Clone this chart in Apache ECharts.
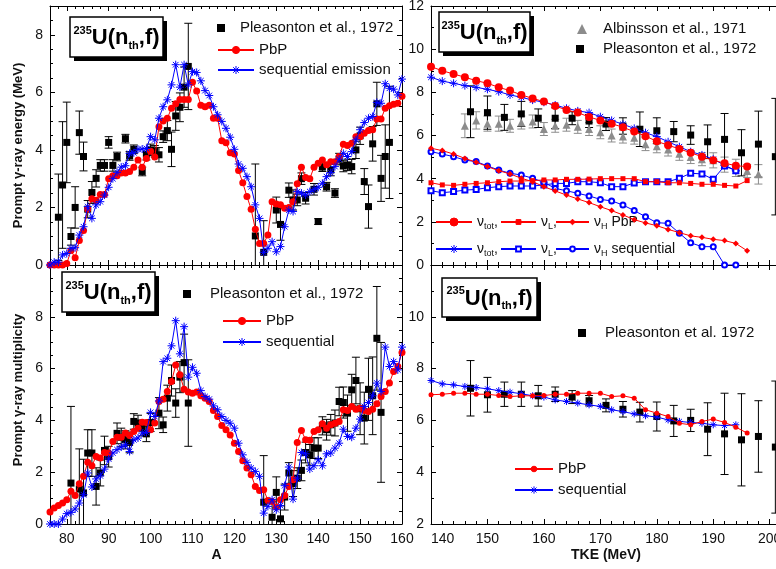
<!DOCTYPE html>
<html><head><meta charset="utf-8">
<script src="https://cdn.jsdelivr.net/npm/echarts@6/dist/echarts.min.js"></script>
<style>html,body{margin:0;padding:0;background:#fff}#c{width:776px;height:569px}</style>
</head><body><div id="c"></div>
<script>
// ---------------- data ----------------
const massA = [76,77,78,79,80,81,82,83,84,85,86,87,88,89,90,91,92,93,94,95,96,97,98,99,100,101,102,103,104,105,106,107,108,109,110,111,112,113,114,115,116,117,118,119,120,121,122,123,124,125,126,127,128,129,130,131,132,133,134,135,136,137,138,139,140,141,142,143,144,145,146,147,148,149,150,151,152,153,154,155,156,157,158,159,160];
const energyPbP = [0,0,0,0,0.05,0.5,0.25,0.85,1.2,1.95, 2.3,2.25,2.45,2.45,3.0,3.1,3.1,3.2,3.2,3.25, 3.4,3.65,3.4,3.7,3.95,3.75,4.8,5.0,5.1,5.45, 5.6,5.75,5.75,5.75,6.35,6.05,5.55,5.5,5.55,5.1, 5.1,4.32,4.25,3.9,3.86,3.28,2.86,2.38,1.94,1.24, 0.75,0.75,1.04,2.2,2.12,2.09,1.97,2.0,2.2,2.82, 3.4,3.04,3.0,3.4,3.54,3.65,3.48,3.59,3.59,3.77, 4.2,4.15,4.23,4.46,4.46,4.58,4.67,4.7,5.07,5.07, 5.45,5.53,5.59,5.62,5.86];
const energySeq = [0,0.1,0.1,0.35,0.4,0.58,0.6,1.04,1.33,2.03, 1.62,2.09,2.2,2.43,2.7,3.0,3.22,3.4,3.45,3.88, 3.9,4.02,4.03,4.05,4.46,4.35,5.1,5.5,5.74,6.26, 6.96,6.18,6.96,6.26,6.72,6.69,6.4,6.06,5.89,5.5, 5.22,4.99,4.75,4.44,4.02,3.51,3.36,3.07,2.72,2.09, 1.62,0.44,0.58,0.81,0.46,0.64,1.33,1.91,1.86,2.55, 2.5,2.43,2.55,2.63,2.7,2.84,3.07,3.21,3.42,3.68, 3.88,3.77,3.94,4.35,4.7,4.95,5.1,5.16,5.65,5.62, 6.3,6.14,6.11,5.91,6.46];
const plEnergyA = [78,79,80,81,82,83,84,85,86,87,88,89,90,91,92,94,95,96,98,99,100,101,102,103,104,105,106,107,108,109,125,127,130,131,133,134,135,136,137,139,140,141,142,143,144,145,146,147,148,149,150,151,152,153,154,155,156,157];
const plEnergy = [1.66,2.78,4.26,0.99,2.0,4.6,3.77,1.94,2.52,3.01,3.46,3.46,4.26,3.46,3.77,4.39,3.79,4.02,3.25,3.85,4.0,3.95,3.83,4.46,4.67,4.02,5.18,5.48,6.18,6.9,1.01,0.44,1.91,1.41,2.6,2.26,2.26,3.0,2.32,2.63,1.51,3.4,2.72,3.3,2.5,3.68,3.44,3.48,3.42,4.0,4.49,2.9,2.03,4.21,5.6,3.01,3.77,4.26];
const plEnergyErr = [1.5,2.2,1.4,0.3,0.72,0.75,0.5,0.3,0.38,0.3,0.2,0.2,0.2,0.2,0.15,0.15,0.15,0.15,0.15,0.2,0.2,0.2,0.25,0.2,0.35,0.6,0.5,0.5,0.7,1.5,2.5,1.1,0.45,0.55,0.25,0.35,0.2,0.2,0.2,0.2,0.1,0.15,0.15,0.2,0.15,0.2,0.2,0.2,0.25,0.3,0.3,0.45,0.75,0.6,0.75,0.8,1.1,1.95];

const multPbP = [0.46,0.62,0.71,0.81,0.94,1.26,1.1,1.55,1.84,2.38, 2.25,2.61,2.55,2.76,2.74,3.19,3.35,3.35,3.51,3.42, 3.57,3.7,3.93,3.92,3.64,3.9,4.73,4.82,5.12,5.5, 6.14,5.76,5.2,5.1,5.05,5.1,4.95,4.86,4.73,4.38, 4.15,3.8,3.64,3.44,3.12,2.8,2.44,2.16,1.9,1.45, 1.29,1.32,0.91,0.87,0.66,0.94,1.1,1.45,1.71,3.15, 3.61,3.25,3.23,3.57,3.64,3.87,3.7,3.83,3.89,3.96, 4.41,4.38,4.54,4.43,4.47,4.38,4.34,4.43,4.64,4.92, 5.12,5.44,5.89,6.08,6.62];
const multSeq = [0,0,0,0.19,0.4,0.45,0.58,0.81,1.13,1.97, 1.43,1.74,1.86,2.12,2.51,2.74,2.87,2.97,3.06,2.8, 3.25,3.32,3.51,3.54,4.31,4.15,4.75,6.27,6.4,6.88, 7.85,6.57,7.62,5.67,6.05,5.82,5.15,4.92,4.82,4.56, 4.41,4.15,4.0,3.89,3.7,3.12,2.67,2.38,2.16,2.03, 1.84,0.42,0.68,0.94,0.55,0.71,1.48,2.2,0.96,1.77, 2.76,2.71,2.12,2.25,2.48,2.25,2.71,2.74,2.93,3.12, 3.66,3.38,3.35,3.7,4.05,4.54,4.69,4.95,5.44,5.12, 6.83,6.08,6.27,5.95,6.83];
const plMultA = [81,83,84,85,86,87,88,89,90,92,93,94,95,96,97,98,99,100,102,103,104,105,106,107,108,109,127,129,130,131,132,133,134,135,136,137,138,139,140,141,142,143,144,145,146,147,148,149,150,151,152,153,154,155];
const plMult = [1.58,1.35,1.2,2.74,2.74,1.45,1.97,2.84,2.6,3.5,3.35,3.25,3.15,3.96,3.9,3.7,3.48,3.92,4.28,3.83,4.86,5.54,4.67,5.67,6.23,4.67,0.84,0.26,1.22,0.2,1.04,1.97,1.56,1.77,2.07,2.76,2.67,2.93,2.93,3.79,3.64,3.83,3.9,4.73,4.69,4.28,5.18,5.54,4.45,4.09,5.2,4.95,7.17,4.31];
const plMultErr = [2.96,1.55,1.3,0.9,0.9,0.72,0.5,0.55,0.4,0.4,0.35,0.35,0.4,0.3,0.3,0.3,0.3,0.35,0.6,0.3,0.5,0.6,0.55,0.6,1.1,1.67,1.8,0.6,0.6,0.5,0.5,0.4,0.5,0.4,0.4,0.4,0.4,0.4,0.4,0.35,0.4,0.4,0.5,0.55,0.6,0.7,0.6,0.9,1.0,1.0,1.2,1.5,2.0,2.7];

const tkePbP = [140,142,144,146,148,150,152,154,156,158,160,162,164,166,168,170,172,174,176,178,180,182,184,186,188,190,192,194,196];
const tkeSeq = [140,142,144,146,148,150,152,154,156,158,160,162,164,166,168,170,172,174,176,178,180,182,184,186,188,190,192,194];
const nuTotPbP = [9.19,9.0,8.85,8.7,8.54,8.42,8.23,8.08,7.88,7.72,7.57,7.37,7.18,7.06,6.86,6.7,6.55,6.38,6.18,5.97,5.73,5.55,5.38,5.2,5.02,4.85,4.72,4.6,4.56];
const nuLPbP = [3.81,3.71,3.69,3.74,3.78,3.81,3.86,3.89,3.89,3.91,3.94,3.94,3.97,3.97,3.98,4.0,4.0,4.0,4.0,3.86,3.86,3.81,3.81,3.78,3.74,3.74,3.69,3.66,3.91];
const nuHPbP = [5.41,5.3,5.14,4.94,4.76,4.56,4.37,4.22,4.02,3.86,3.63,3.43,3.24,3.06,2.89,2.7,2.52,2.32,2.1,1.95,1.82,1.65,1.5,1.35,1.28,1.19,1.13,1.0,0.66];
const nuTotSeq = [8.7,8.52,8.42,8.31,8.23,8.14,8.03,7.88,7.77,7.64,7.54,7.41,7.26,7.14,7.06,6.87,6.7,6.52,6.33,6.13,5.95,5.71,5.48,5.25,5.1,4.9,4.63,4.37];
const nuLSeq = [3.44,3.35,3.4,3.47,3.5,3.58,3.63,3.66,3.66,3.66,3.71,3.78,3.78,3.86,3.86,3.81,3.63,3.63,3.8,3.86,3.86,3.86,4.02,4.25,4.22,3.97,4.59,4.37];
const nuHSeq = [5.25,5.14,5.02,4.86,4.79,4.59,4.4,4.25,4.17,4.02,3.83,3.55,3.44,3.32,3.2,3.04,2.97,2.78,2.52,2.24,1.96,1.93,1.47,1.03,0.85,0.85,0,0];
const albTKE = [146,148,150,152,154,156,158,160,162,164,166,168,170,172,174,176,178,180,182,184,186,188,190,192,194,196,198];
const albNu = [6.45,6.7,6.55,6.55,6.45,6.6,6.65,6.3,6.45,6.5,6.4,6.3,6.15,6.0,5.95,5.9,5.6,5.5,5.35,5.15,5.0,4.9,4.85,4.65,4.5,4.35,4.2];
const albNuErr = [0.55,0.4,0.35,0.35,0.3,0.3,0.3,0.3,0.3,0.3,0.3,0.3,0.3,0.3,0.3,0.3,0.3,0.3,0.3,0.3,0.3,0.3,0.35,0.35,0.4,0.3,0.45];
const plTKE = [147,150,153,156,159,162,165,168,171,174,177,180,183,186,189,192,195,198,201];
const plNu = [7.1,7.06,6.84,7.0,6.8,6.8,6.8,6.67,6.53,6.44,6.29,6.22,6.18,6.02,5.71,5.82,5.2,5.6,5.02];
const plNuErr = [1.2,0.77,0.6,0.58,0.43,0.48,0.3,0.3,0.3,0.38,0.8,0.6,0.47,0.43,0.78,1.2,1.07,1.53,2.7];

const gTkePbP = [6.99,7.01,7.05,7.05,7.01,7.01,6.96,6.92,6.95,6.95,6.96,7.01,7.01,7.05,7.05,7.05,6.92,6.95,6.86,6.41,6.28,6.15,5.89,5.83,5.96,6.05,5.92,5.74,5.51];
const gTkeSeq = [7.54,7.41,7.37,7.31,7.27,7.22,7.15,7.09,7.03,6.95,6.9,6.79,6.73,6.67,6.6,6.54,6.41,6.34,6.25,6.18,6.13,6.02,5.96,5.92,5.89,5.83,5.8,5.83];
const plG = [7.24,6.99,7.01,7.01,6.95,7.01,6.9,6.76,6.58,6.43,6.32,6.15,5.98,6.0,5.66,5.48,5.25,5.38,4.97];
const plGErr = [1.07,0.67,0.47,0.47,0.4,0.28,0.25,0.2,0.25,0.3,0.38,0.56,0.6,0.43,1.02,1.57,1.78,1.38,2.55];

// ---------------- styling ----------------
const FONT = '"Liberation Sans", Arial, Helvetica, sans-serif';
const RED = '#ff0000', BLUE = '#0000ff', BLACK = '#000000', GRAY = '#8c8c8c';
const STAR = 'path://M0 5L10 5M5 0L5 10M1.5 1.5L8.5 8.5M8.5 1.5L1.5 8.5';
const pairs = (xs, ys) => xs.map((x, i) => [x, ys[i]]);

const grids = [
  {left: 50, top: 6, width: 352, height: 259, outerBoundsMode: 'none', containLabel: false},
  {left: 431, top: 6, width: 350, height: 259, outerBoundsMode: 'none', containLabel: false},
  {left: 50, top: 265, width: 352, height: 259, outerBoundsMode: 'none', containLabel: false},
  {left: 431, top: 265, width: 350, height: 259, outerBoundsMode: 'none', containLabel: false}
];

function baseAxis(extra) {
  return Object.assign({
    type: 'value', scale: false,
    axisLine: {show: true, onZero: false, lineStyle: {color: BLACK, width: 1}},
    axisTick: {show: true, inside: true, length: 5, lineStyle: {color: BLACK}},
    minorTick: {show: true, splitNumber: 5, length: 3, lineStyle: {color: BLACK}},
    splitLine: {show: false},
    axisLabel: {show: false, color: '#111', fontSize: 14, fontFamily: FONT, margin: 7},
    nameTextStyle: {fontSize: 14, fontWeight: 'bold', fontFamily: FONT, color: '#111'}
  }, extra);
}
const massRange = {min: 76, max: 160, minInterval: 10, maxInterval: 10, splitNumber: 8};
const tkeRange = {min: 140, max: 202, interval: 10};
const mult10 = v => (Math.abs(v % 10) < 1e-9 ? String(v) : '');

const xAxes = [];
const yAxes = [];
// TL
xAxes.push(baseAxis(Object.assign({gridIndex: 0, position: 'bottom'}, massRange)));
xAxes.push(baseAxis(Object.assign({gridIndex: 0, position: 'top'}, massRange)));
// TR
xAxes.push(baseAxis(Object.assign({gridIndex: 1, position: 'bottom'}, tkeRange)));
xAxes.push(baseAxis(Object.assign({gridIndex: 1, position: 'top'}, tkeRange)));
// BL
xAxes.push(baseAxis(Object.assign({gridIndex: 2, position: 'bottom', name: 'A', nameLocation: 'middle', nameGap: 24,
  nameTextStyle: {fontSize: 14, fontWeight: 'bold', fontFamily: FONT, color: '#111', padding: [0, 19, 0, 0]},
  axisLabel: {show: true, color: '#111', fontSize: 14, fontFamily: FONT, margin: 8, formatter: mult10}}, massRange)));
xAxes.push(baseAxis(Object.assign({gridIndex: 2, position: 'top'}, massRange)));
// BR
xAxes.push(baseAxis(Object.assign({gridIndex: 3, position: 'bottom', name: 'TKE (MeV)', nameLocation: 'middle', nameGap: 24,
  axisLabel: {show: true, color: '#111', fontSize: 14, fontFamily: FONT, margin: 8, formatter: mult10, alignMinLabel: 'left'}}, tkeRange)));
xAxes.push(baseAxis(Object.assign({gridIndex: 3, position: 'top'}, tkeRange)));

const yLab = (hideAbove) => ({show: true, color: '#111', fontSize: 14, fontFamily: FONT, margin: 7,
  formatter: v => (v > hideAbove - 1e-9 || Math.abs(v % 2) > 1e-9 ? '' : String(v))});
// TL
yAxes.push(baseAxis({gridIndex: 0, position: 'left', min: 0, max: 9, interval: 2, minorTick: {show: true, splitNumber: 4, length: 3, lineStyle: {color: BLACK}},
  axisLabel: yLab(9), name: 'Prompt \u03b3-ray energy (MeV)', nameLocation: 'middle', nameGap: 25,
  nameTextStyle: {fontSize: 13, fontWeight: 'bold', fontFamily: FONT, color: '#111', padding: [0, 20, 0, 0]}}));
yAxes.push(baseAxis({gridIndex: 0, position: 'right', min: 0, max: 9, interval: 2, minorTick: {show: true, splitNumber: 4, length: 3, lineStyle: {color: BLACK}}}));
// TR
yAxes.push(baseAxis({gridIndex: 1, position: 'left', min: 0, max: 12, interval: 2, minorTick: {show: true, splitNumber: 2, length: 3, lineStyle: {color: BLACK}},
  axisLabel: yLab(13)}));
yAxes.push(baseAxis({gridIndex: 1, position: 'right', min: 0, max: 12, interval: 2, minorTick: {show: true, splitNumber: 2, length: 3, lineStyle: {color: BLACK}}}));
// BL
yAxes.push(baseAxis({gridIndex: 2, position: 'left', min: 0, max: 10, interval: 2, minorTick: {show: true, splitNumber: 4, length: 3, lineStyle: {color: BLACK}},
  axisLabel: yLab(10), name: 'Prompt \u03b3-ray multiplicity', nameLocation: 'middle', nameGap: 25,
  nameTextStyle: {fontSize: 13, fontWeight: 'bold', fontFamily: FONT, color: '#111', padding: [0, 0, 0, 9]}}));
yAxes.push(baseAxis({gridIndex: 2, position: 'right', min: 0, max: 10, interval: 2, minorTick: {show: true, splitNumber: 4, length: 3, lineStyle: {color: BLACK}}}));
// BR
yAxes.push(baseAxis({gridIndex: 3, position: 'left', min: 2, max: 12, interval: 2, minorTick: {show: true, splitNumber: 2, length: 3, lineStyle: {color: BLACK}},
  axisLabel: yLab(12)}));
yAxes.push(baseAxis({gridIndex: 3, position: 'right', min: 2, max: 12, interval: 2, minorTick: {show: true, splitNumber: 2, length: 3, lineStyle: {color: BLACK}}}));

// ---------------- series ----------------
function errSeries(name, gi, xs, ys, es, color, cap) {
  return {
    name: name, type: 'custom', xAxisIndex: 2 * gi, yAxisIndex: 2 * gi, clip: true, silent: true, z: 2,
    data: xs.map((x, i) => [x, ys[i] - es[i], ys[i] + es[i]]),
    encode: {x: 0, y: [1, 2]},
    renderItem: function (params, api) {
      const a = api.coord([api.value(0), api.value(2)]);
      const b = api.coord([api.value(0), api.value(1)]);
      const st = {stroke: color, lineWidth: 1};
      return {type: 'group', children: [
        {type: 'line', shape: {x1: a[0], y1: a[1], x2: b[0], y2: b[1]}, style: st},
        {type: 'line', shape: {x1: a[0] - cap, y1: a[1], x2: a[0] + cap, y2: a[1]}, style: st},
        {type: 'line', shape: {x1: b[0] - cap, y1: b[1], x2: b[0] + cap, y2: b[1]}, style: st}
      ]};
    }
  };
}
function scat(name, gi, xs, ys, symbol, size, color) {
  return {name: name, type: 'scatter', xAxisIndex: 2 * gi, yAxisIndex: 2 * gi, z: 3,
    symbol: symbol, symbolSize: size, data: pairs(xs, ys),
    itemStyle: {color: color, opacity: 1}, emphasis: {disabled: true}};
}
function line(name, gi, xs, ys, color, symbol, size, opts) {
  opts = opts || {};
  const star = symbol === STAR, empty = symbol.indexOf('empty') === 0;
  return {name: name, type: 'line', xAxisIndex: 2 * gi, yAxisIndex: 2 * gi, z: opts.z || 4,
    data: pairs(xs, ys), symbol: symbol, symbolSize: size, showSymbol: true, showAllSymbol: true,
    color: color, lineStyle: {color: color, width: 1},
    itemStyle: {color: color, borderColor: color, borderWidth: (star || empty) ? 1 : 0, opacity: 1},
    emphasis: {disabled: true}, animation: false};
}

const series = [
  // TL
  errSeries('plTLerr', 0, plEnergyA, plEnergy, plEnergyErr, BLACK, 4),
  scat('plTL', 0, plEnergyA, plEnergy, 'rect', 7, BLACK),
  line('pbpTL', 0, massA, energyPbP, RED, 'circle', 7),
  line('seqTL', 0, massA, energySeq, BLUE, STAR, 8, {z: 5}),
  // TR
  errSeries('albTRerr', 1, albTKE, albNu, albNuErr, GRAY, 4),
  scat('albTR', 1, albTKE, albNu, 'triangle', 8, GRAY),
  errSeries('plTRerr', 1, plTKE, plNu, plNuErr, BLACK, 4),
  scat('plTR', 1, plTKE, plNu, 'rect', 7, BLACK),
  line('nuTotSeq', 1, tkeSeq, nuTotSeq, BLUE, STAR, 8),
  line('nuLSeq', 1, tkeSeq, nuLSeq, BLUE, 'emptyRect', 5),
  line('nuHSeq', 1, tkeSeq, nuHSeq, BLUE, 'emptyCircle', 5),
  line('nuTotPbP', 1, tkePbP, nuTotPbP, RED, 'circle', 8, {z: 5}),
  line('nuLPbP', 1, tkePbP, nuLPbP, RED, 'rect', 5, {z: 5}),
  line('nuHPbP', 1, tkePbP, nuHPbP, RED, 'diamond', 6, {z: 5}),
  // BL
  errSeries('plBLerr', 2, plMultA, plMult, plMultErr, BLACK, 4),
  scat('plBL', 2, plMultA, plMult, 'rect', 7, BLACK),
  line('pbpBL', 2, massA, multPbP, RED, 'circle', 7),
  line('seqBL', 2, massA, multSeq, BLUE, STAR, 8, {z: 5}),
  // BR
  errSeries('plBRerr', 3, plTKE, plG, plGErr, BLACK, 4),
  scat('plBR', 3, plTKE, plG, 'rect', 7, BLACK),
  line('seqBR', 3, tkeSeq, gTkeSeq, BLUE, STAR, 7),
  line('pbpBR', 3, tkePbP, gTkePbP, RED, 'circle', 5, {z: 5})
];

// ---------------- legends ----------------
const legendLabels = {
  plTL: 'Pleasonton et al., 1972', pbpTL: 'PbP', seqTL: 'sequential emission',
  albTR: 'Albinsson et al., 1971', plTR: 'Pleasonton et al., 1972',
  nuTotPbP: '{n|\u03bd}{s|tot}{n|,}', nuLPbP: '{n|\u03bd}{s|L}{n|,}', nuHPbP: '{n|\u03bd}{s|H}{n| PbP}',
  nuTotSeq: '{n|\u03bd}{s|tot}{n|,}', nuLSeq: '{n|\u03bd}{s|L}{n|,}', nuHSeq: '{n|\u03bd}{s|H}{n| sequential}',
  plBL: 'Pleasonton et al., 1972', pbpBL: 'PbP', seqBL: 'sequential',
  plBR: 'Pleasonton et al. 1972', pbpBR: 'PbP', seqBR: 'sequential'
};
// [series, left, centerY, itemWidth, itemHeight, fontSize, textPadLeft]
const legendSpec = [
  ['plTL', 217, 28, 8, 8, 15, 10], ['pbpTL', 217, 50, 36, 9, 15, 0], ['seqTL', 217, 70, 36, 10, 15, 0],
  ['albTR', 577, 29, 10, 10, 15, 11], ['plTR', 576, 49, 8, 8, 15, 14],
  ['nuTotPbP', 435, 222, 36, 10, 14, 0], ['nuLPbP', 500, 222, 35, 6, 14, 0], ['nuHPbP', 555, 222, 33, 7, 14, 0],
  ['nuTotSeq', 435, 249, 36, 10, 14, 0], ['nuLSeq', 500, 249, 35, 6, 14, 0], ['nuHSeq', 555, 249, 33, 6, 14, 0],
  ['plBL', 183, 294, 8, 8, 15, 14], ['pbpBL', 222, 321, 38, 9, 15, 0], ['seqBL', 222, 342, 38, 10, 15, 0],
  ['plBR', 578, 333, 8, 8, 15, 14], ['pbpBR', 514, 469, 38, 7, 15, 0], ['seqBR', 514, 490, 38, 9, 15, 0]
];
const legends = legendSpec.map(s => ({
  data: [s[0]], left: s[1], top: s[2] - 9, orient: 'horizontal', padding: 0,
  itemWidth: s[3], itemHeight: s[4], selectedMode: false,
  itemStyle: {borderWidth: 1},
  formatter: n => legendLabels[n],
  textStyle: {fontSize: s[5], fontFamily: FONT, color: '#111', lineHeight: 18, padding: [0, 0, 0, s[6]],
    rich: {n: {fontSize: s[5], fontFamily: FONT, color: '#111', lineHeight: 18},
           s: {fontSize: 9, fontFamily: FONT, color: '#111', lineHeight: 9, verticalAlign: 'bottom'}}}
}));

// ---------------- title boxes ----------------
const titleBoxes = [[70, 17, 93, 40], [439, 12, 91, 40], [62, 272, 93, 40], [442, 278, 95, 39]];
const graphics = [];
titleBoxes.forEach(b => {
  graphics.push({type: 'rect', z: 100, shape: {x: b[0] + 4, y: b[1] + 4, width: b[2], height: b[3]}, style: {fill: '#000'}});
  graphics.push({type: 'rect', z: 101, shape: {x: b[0], y: b[1], width: b[2], height: b[3]}, style: {fill: '#fff', stroke: '#000', lineWidth: 1.5}});
  graphics.push({type: 'text', z: 102, x: b[0] + b[2] / 2, y: b[1] + b[3] / 2 + 1, style: {
    text: '{p|235}{b|U(n}{q|th}{b|,f)}', align: 'center', verticalAlign: 'middle', fill: '#000',
    rich: {
      p: {fontSize: 11, fontWeight: 'bold', fontFamily: FONT, lineHeight: 11, verticalAlign: 'top', fill: '#000'},
      b: {fontSize: 22, fontWeight: 'bold', fontFamily: FONT, lineHeight: 26, fill: '#000'},
      q: {fontSize: 11, fontWeight: 'bold', fontFamily: FONT, lineHeight: 11, verticalAlign: 'bottom', fill: '#000'}
    }}});
});

const chart = echarts.init(document.getElementById('c'), null, {renderer: 'canvas'});
chart.setOption({
  animation: false,
  backgroundColor: '#ffffff',
  textStyle: {fontFamily: FONT},
  grid: grids,
  xAxis: xAxes,
  yAxis: yAxes,
  legend: legends,
  series: series,
  graphic: graphics
});
</script></body></html>
